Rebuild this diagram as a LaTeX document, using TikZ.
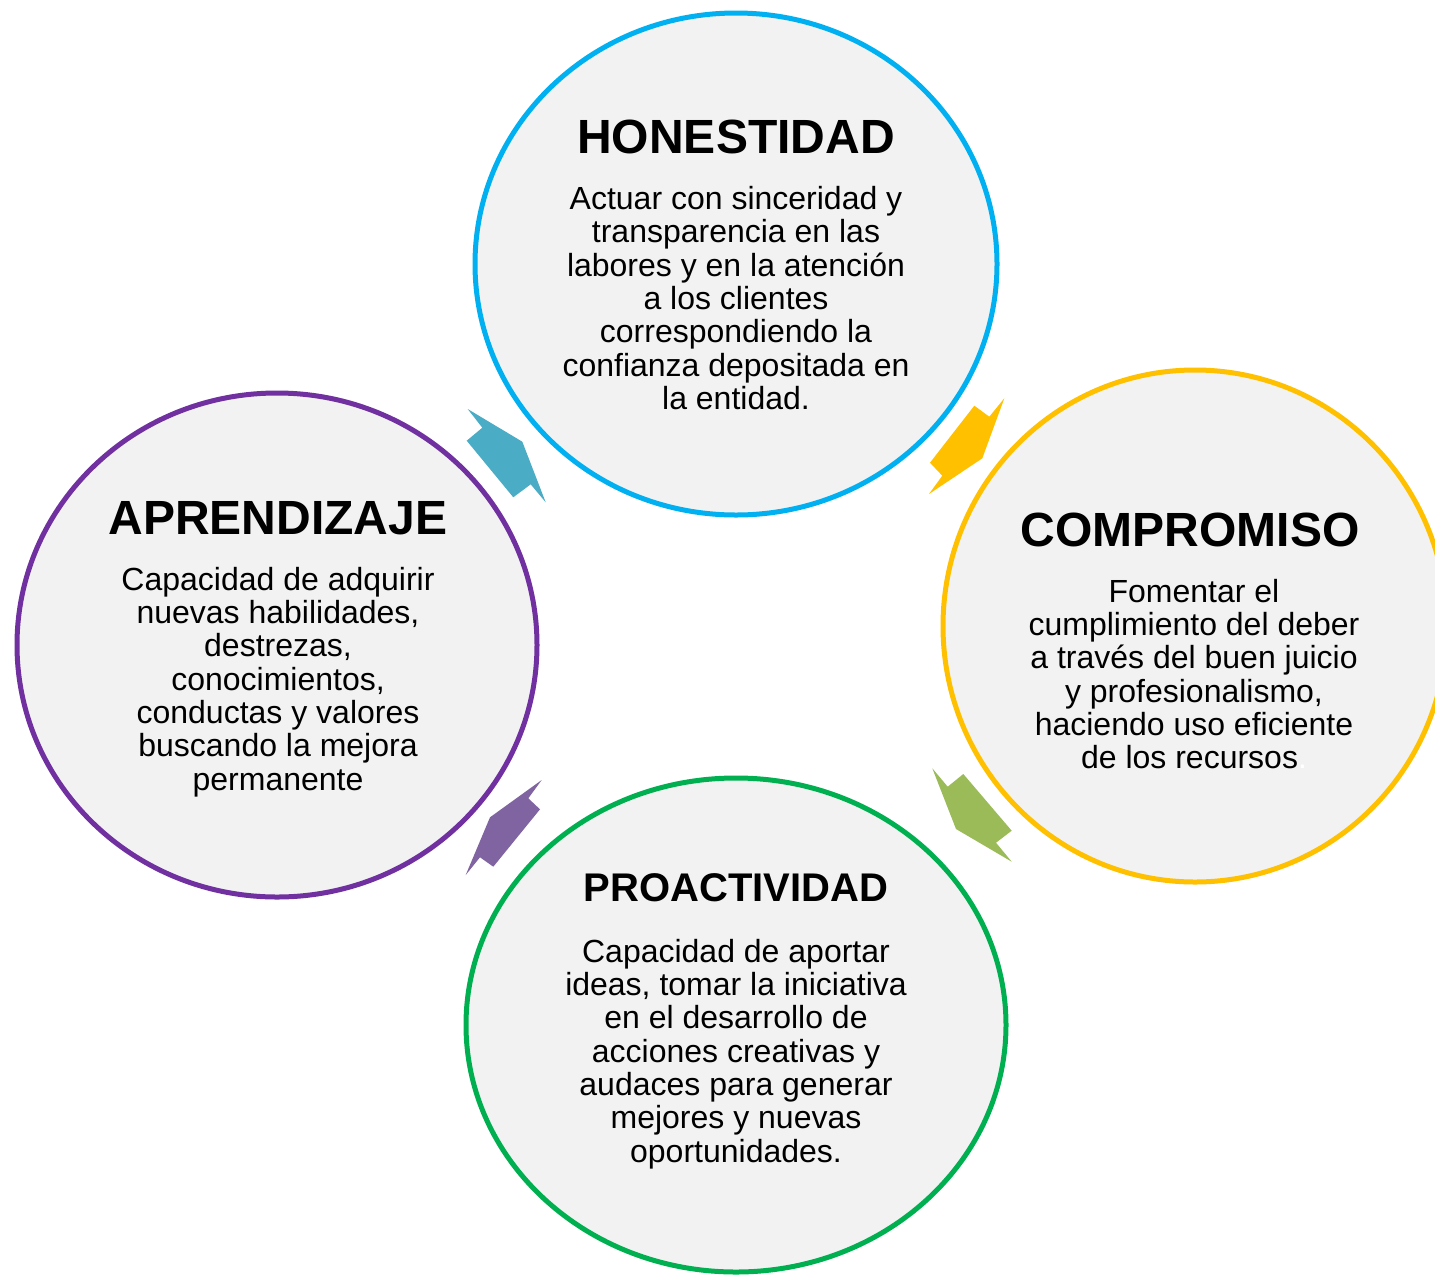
\documentclass[tikz,border=0pt]{standalone}
\usepackage{fontspec}
\setmainfont{Liberation Sans}
\usetikzlibrary{shapes.geometric}
\definecolor{fondo}{HTML}{F2F2F2}
\definecolor{cHon}{HTML}{00B0F0}
\definecolor{cCom}{HTML}{FFC000}
\definecolor{cPro}{HTML}{00B050}
\definecolor{cApr}{HTML}{7030A0}
\definecolor{fHon}{HTML}{4BACC6}
\definecolor{fCom}{HTML}{FFC000}
\definecolor{fPro}{HTML}{9BBB59}
\definecolor{fApr}{HTML}{8064A2}
\tikzset{
  valor/.style={ellipse, draw, line width=5pt, fill=fondo, inner sep=0pt},
  titulo/.style={font=\bfseries\fontsize{48}{54}\selectfont, inner sep=0pt},
  texto/.style={font=\fontsize{32}{33.3}\selectfont, align=center, inner sep=0pt},
}
\begin{document}
\begin{tikzpicture}[x=1pt,y=-1pt]
\useasboundingbox (0,0) rectangle (1435,1275);
\fill[white] (0,0) rectangle (1435,1275);
\node[valor, draw=cHon, minimum width=522, minimum height=502] (hon) at (736,264) {};
\node[valor, draw=cCom, minimum width=504, minimum height=512] (com) at (1195,626) {};
\node[valor, draw=cPro, minimum width=540, minimum height=494] (pro) at (736,1025) {};
\node[valor, draw=cApr, minimum width=520, minimum height=504] (apr) at (277,645) {};
% flechas
\fill[fHon] (467.7,409) -- (522.3,441.7) -- (545.7,502.3) -- (530.7,484.3) -- (513.3,497.3) -- (466.7,440.7) -- (482.3,427.7) -- cycle;
\fill[fCom] (1004.3,398.3) -- (982.3,458.3) -- (929,494) -- (942.3,475.7) -- (930,462.7) -- (974.3,405.7) -- (989.3,416.7) -- cycle;
\fill[fPro] (932.3,768.3) -- (947.7,786.7) -- (963.3,774) -- (1011.7,830.7) -- (996,842.7) -- (1011.7,861.7) -- (956,829) -- cycle;
\fill[fApr] (541.7,780) -- (528.3,798.3) -- (540,809.3) -- (493.3,866.7) -- (480,857.3) -- (465.7,875) -- (490,817.3) -- cycle;
% textos
\node[titulo] (hon-tit) at (736,137) {HONESTIDAD};
\node[texto] (hon-txt) at (736,298) {Actuar con sinceridad y\\transparencia en las\\labores y en la atención\\a los clientes\\correspondiendo la\\confianza depositada en\\la entidad.};
\node[titulo] (com-tit) at (1190,530) {COMPROMISO};
\node[texto] (com-txt) at (1194,674) {Fomentar el\\cumplimiento del deber\\a través del buen juicio\\y profesionalismo,\\haciendo uso eficiente\\de los recursos\textcolor{white}{.}};
\node[titulo, font=\bfseries\fontsize{40}{46}\selectfont] (pro-tit) at (736,888) {PROACTIVIDAD};
\node[texto] (pro-txt) at (736,1054) {Capacidad de aportar\\ideas, tomar la iniciativa\\en el desarrollo de\\acciones creativas y\\audaces para generar\\mejores y nuevas\\oportunidades.};
\node[titulo] (apr-tit) at (278,518) {APRENDIZAJE};
\node[texto] (apr-txt) at (278,682) {Capacidad de adquirir\\nuevas habilidades,\\destrezas,\\conocimientos,\\conductas y valores\\buscando la mejora\\permanente};
\end{tikzpicture}
\end{document}
